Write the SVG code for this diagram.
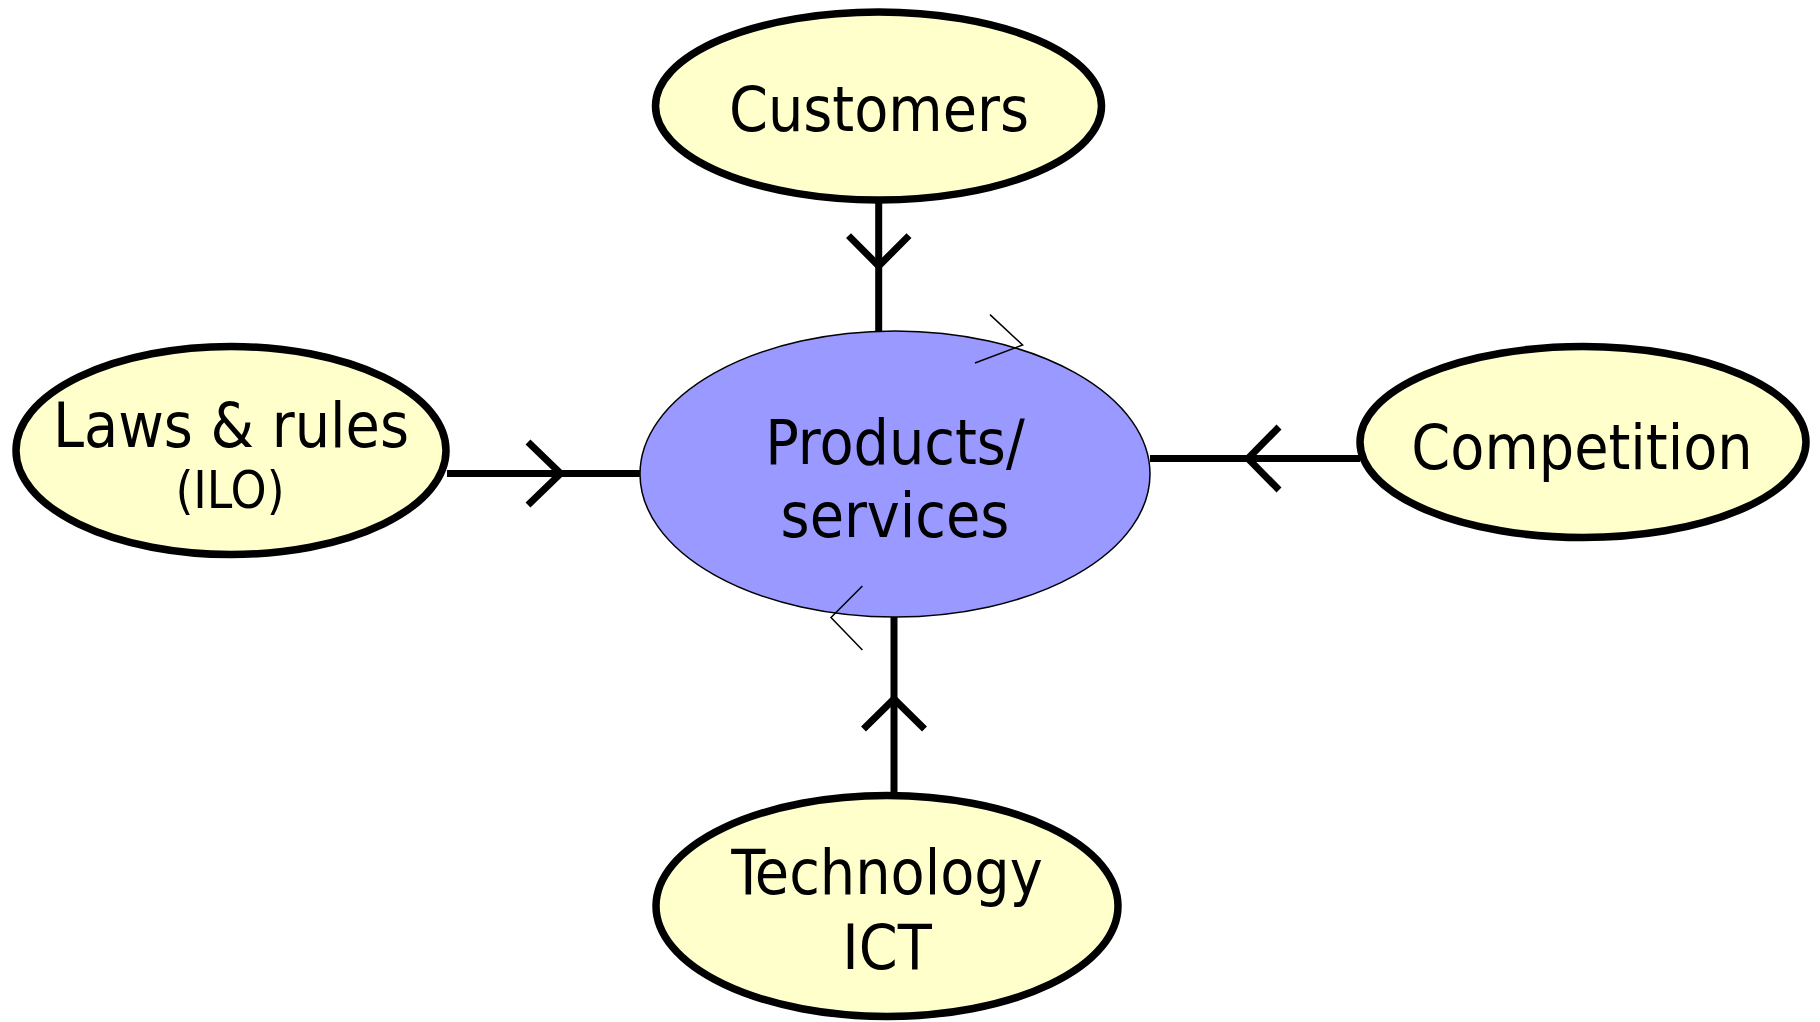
<svg xmlns="http://www.w3.org/2000/svg" width="1820" height="1022" viewBox="0 0 1820 1022">
<style>
.outer{fill:#FFFFCC;stroke:#000;stroke-width:7.5}
.core{fill:#9999FF;stroke:#000;stroke-width:1.5}
.lbl{font-family:"DejaVu Sans Condensed","DejaVu Sans",sans-serif;font-size:62px;fill:#000;text-anchor:middle}
.small{font-size:51px}
.conn{stroke:#000;stroke-width:7;fill:none}
.thin{stroke:#000;stroke-width:1.5;fill:none}
</style>
<rect width="1820" height="1022" fill="#fff"/>
<g id="connectors">
<line class="conn" x1="878.7" y1="203" x2="878.7" y2="332"/>
<polyline class="conn" points="848.5,235.6 878.7,266 909,235.6"/>
<line class="conn" x1="894" y1="617" x2="894" y2="795"/>
<polyline class="conn" points="863.5,729 894,699 924.5,729"/>
<line class="conn" x1="447" y1="473.6" x2="640" y2="473.6"/>
<polyline class="conn" points="528,442 560.6,473.6 528,505"/>
<line class="conn" x1="1150" y1="458.5" x2="1360" y2="458.5"/>
<polyline class="conn" points="1279,427 1248,458.5 1279,490"/>
</g>
<g id="products">
<ellipse class="core" cx="895" cy="474" rx="255" ry="143"/>
<text class="lbl" x="895" y="464">Products/</text>
<text class="lbl" x="895" y="537">services</text>
<polyline class="thin" points="990,314.6 1022.6,345 975,363"/>
<polyline class="thin" points="862.4,586 831,617.5 862.4,650"/>
</g>
<g id="customers">
<ellipse class="outer" cx="878.5" cy="106" rx="223" ry="94"/>
<text class="lbl" x="879" y="131">Customers</text>
</g>
<g id="laws">
<ellipse class="outer" cx="231" cy="450.5" rx="215" ry="104"/>
<text class="lbl" x="231" y="447">Laws &amp; rules</text>
<text class="lbl small" x="230" y="508">(ILO)</text>
</g>
<g id="competition">
<ellipse class="outer" cx="1583" cy="442" rx="223" ry="95.5"/>
<text class="lbl" x="1582" y="469">Competition</text>
</g>
<g id="technology">
<ellipse class="outer" cx="887" cy="906" rx="231" ry="110.5"/>
<text class="lbl" x="887" y="894">Technology</text>
<text class="lbl" x="887" y="969">ICT</text>
</g>
</svg>
